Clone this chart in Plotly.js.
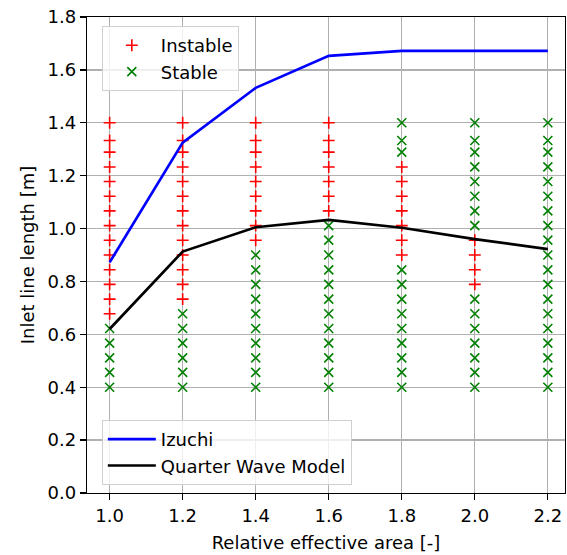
<!DOCTYPE html>
<html>
<head>
<meta charset="utf-8">
<script src="https://cdn.plot.ly/plotly-3.0.1.min.js"></script>
<style>html,body{margin:0;padding:0;background:#fff;}#chart{width:567px;height:555px;}</style>
</head>
<body>
<div id="chart"></div>
<script>
// Relative effective area columns
const areas = [1.0, 1.2, 1.4, 1.6, 1.8, 2.0, 2.2];
// Inlet line lengths tested (bottom to top)
const lengths = [0.400, 0.456, 0.511, 0.567, 0.622, 0.678, 0.733, 0.789, 0.844, 0.900,
                 0.956, 1.011, 1.067, 1.122, 1.178, 1.233, 1.289, 1.333, 1.400];
// Status per column, one char per length (bottom to top): I = instable, S = stable
const status = [
  "SSSSSIIIIIIIIIIIIII",
  "SSSSSSIIIIIIIIIIIII",
  "SSSSSSSSSSIIIIIIIII",
  "SSSSSSSSSSSSIIIIIII",
  "SSSSSSSSSIIIIIIISSS",
  "SSSSSSSIIIISSSSSSSS",
  "SSSSSSSSSSSSSSSSSSS"
];
// Model curves
const izuchi = [0.872, 1.325, 1.532, 1.653, 1.672, 1.672, 1.672];
const quarterWave = [0.62, 0.913, 1.005, 1.033, 1.003, 0.96, 0.922];

const insX = [], insY = [], stX = [], stY = [];
areas.forEach((a, i) => {
  lengths.forEach((L, j) => {
    if (status[i][j] === 'I') { insX.push(a); insY.push(L); }
    else { stX.push(a); stY.push(L); }
  });
});

const font = {family: 'DejaVu Sans', size: 18, color: '#000'};

const traces = [
  {x: insX, y: insY, type: 'scatter', mode: 'markers', name: 'Instable',
   marker: {symbol: 'cross-thin-open', size: 8.5, color: '#ff0000', line: {color: '#ff0000', width: 1.6}},
   legend: 'legend'},
  {x: stX, y: stY, type: 'scatter', mode: 'markers', name: 'Stable',
   marker: {symbol: 'x-thin-open', size: 9, color: '#008000', line: {color: '#008000', width: 1.6}},
   legend: 'legend'},
  {x: areas, y: izuchi, type: 'scatter', mode: 'lines', name: 'Izuchi',
   line: {color: '#0000ff', width: 2.7}, legend: 'legend2'},
  {x: areas, y: quarterWave, type: 'scatter', mode: 'lines', name: 'Quarter Wave Model',
   line: {color: '#000000', width: 2.7}, legend: 'legend2'}
];

const axisCommon = {
  showline: true, mirror: true, linecolor: '#000', linewidth: 1.3,
  ticks: 'outside', ticklen: 6, tickwidth: 1.3, tickcolor: '#000',
  showgrid: true, gridcolor: '#b0b0b0', gridwidth: 1.3,
  zeroline: false, tickfont: font, tickformat: '.1f'
};

const layout = {
  width: 567, height: 555,
  margin: {l: 87, r: 2, t: 17, b: 62},
  paper_bgcolor: '#fff', plot_bgcolor: '#fff',
  font: font,
  xaxis: Object.assign({}, axisCommon, {
    range: [0.938, 2.247], tickvals: [1.0, 1.2, 1.4, 1.6, 1.8, 2.0, 2.2],
    title: {text: 'Relative effective area [-]', font: font, standoff: 11}
  }),
  yaxis: Object.assign({}, axisCommon, {
    range: [0, 1.8], tickvals: [0, 0.2, 0.4, 0.6, 0.8, 1.0, 1.2, 1.4, 1.6, 1.8],
    title: {text: 'Inlet line length [m]', font: font, standoff: 8}
  }),
  legend: {
    x: 0.031, y: 0.981, xanchor: 'left', yanchor: 'top',
    bgcolor: 'rgba(255,255,255,0.8)', bordercolor: '#d0d0d0', borderwidth: 1,
    font: font, itemwidth: 48
  },
  legend2: {
    x: 0.031, y: 0.017, xanchor: 'left', yanchor: 'bottom',
    bgcolor: 'rgba(255,255,255,0.8)', bordercolor: '#d0d0d0', borderwidth: 1,
    font: font, itemwidth: 48
  },
  showlegend: true
};

Plotly.newPlot('chart', traces, layout, {displayModeBar: false, staticPlot: true});
</script>
</body>
</html>
